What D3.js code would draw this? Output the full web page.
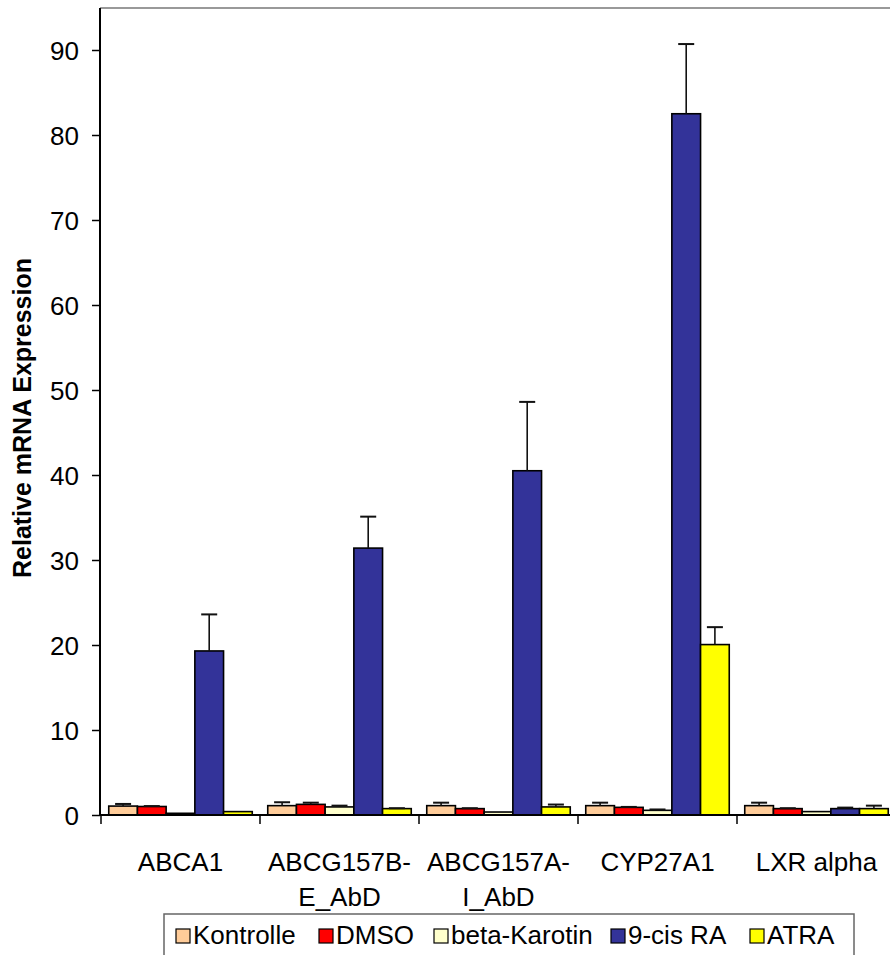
<!DOCTYPE html>
<html><head><meta charset="utf-8">
<script src="https://cdn.jsdelivr.net/npm/d3@7"></script>
<style>body{margin:0;background:#fff}svg{display:block}text{font-family:"Liberation Sans",Arial,sans-serif}</style>
</head><body>
<svg id="c" width="890" height="955"></svg>
<script>
const categories = ["ABCA1", "ABCG157B-\nE_AbD", "ABCG157A-\nI_AbD", "CYP27A1", "LXR alpha"];
const seriesNames = ["Kontrolle", "DMSO", "beta-Karotin", "9-cis RA", "ATRA"];
const seriesColors = ["#FFCC99", "#FF0000", "#FFFFCC", "#333399", "#FFFF00"];
const kontrolle = [1.05, 1.1, 1.1, 1.1, 1.1];
const kontrolleErr = [0.25, 0.4, 0.35, 0.35, 0.35];
const dmso = [1.0, 1.25, 0.75, 0.9, 0.75];
const dmsoErr = [0.05, 0.2, 0.05, 0.05, 0.05];
const betaKarotin = [0.2, 0.95, 0.35, 0.55, 0.4];
const betaKarotinErr = [0.0, 0.15, 0.0, 0.1, 0.0];
const cisRA = [19.3, 31.4, 40.5, 82.5, 0.75];
const cisRAErr = [4.3, 3.7, 8.1, 8.2, 0.12];
const atra = [0.4, 0.75, 0.95, 20.05, 0.75];
const atraErr = [0.0, 0.05, 0.28, 2.05, 0.35];
const yTicks = [0, 10, 20, 30, 40, 50, 60, 70, 80, 90];

const values = [kontrolle, dmso, betaKarotin, cisRA, atra];
const errors = [kontrolleErr, dmsoErr, betaKarotinErr, cisRAErr, atraErr];

const svg = d3.select("#c");
const pLeft = 100, pRight = 896, pTop = 8, pBottom = 815;
const y = d3.scaleLinear().domain([0, 90]).range([pBottom, 50]);
const x0 = d3.scaleBand().domain(categories).range([pLeft + 1, pRight]);
const x1 = d3.scaleBand().domain(seriesNames).range([0, x0.bandwidth()]).paddingOuter(0.27).paddingInner(0);

// plot border top
svg.append("line").attr("x1", pLeft).attr("x2", pRight).attr("y1", pTop).attr("y2", pTop)
  .attr("stroke", "#999").attr("stroke-width", 2);

// bars
const data = [];
categories.forEach((c, i) => seriesNames.forEach((s, j) => data.push({c, s, j, v: values[j][i], e: errors[j][i]})));

svg.append("g").selectAll("rect").data(data).join("rect")
  .attr("x", d => x0(d.c) + x1(d.s))
  .attr("width", x1.bandwidth())
  .attr("y", d => y(d.v))
  .attr("height", d => y(0) - y(d.v))
  .attr("fill", d => seriesColors[d.j])
  .attr("stroke", "#000").attr("stroke-width", 1.6);

// error bars
const eg = svg.append("g").attr("stroke", "#111").attr("stroke-width", 1.6);
data.filter(d => d.e > 0).forEach(d => {
  const cx = x0(d.c) + x1(d.s) + x1.bandwidth() / 2;
  eg.append("line").attr("x1", cx).attr("x2", cx).attr("y1", y(d.v)).attr("y2", y(d.v + d.e));
  eg.append("line").attr("x1", cx - 8).attr("x2", cx + 8).attr("y1", y(d.v + d.e)).attr("y2", y(d.v + d.e)).attr("stroke-width", 2);
});

// y axis
const yAxis = d3.axisLeft(y).tickValues(yTicks).tickSize(8).tickSizeOuter(0);
const ya = svg.append("g").attr("transform", `translate(${pLeft},0)`).call(yAxis);
ya.select(".domain").remove();
ya.selectAll(".tick line").attr("stroke", "#000").attr("stroke-width", 1.5);
ya.selectAll(".tick text").attr("font-size", 26).attr("x", -21).attr("dy", "0.35em")
  .style("font-family", '"Liberation Sans",Arial,sans-serif').attr("fill", "#000");
svg.append("line").attr("x1", pLeft).attr("x2", pLeft).attr("y1", pTop).attr("y2", pBottom)
  .attr("stroke", "#000").attr("stroke-width", 2);

// x axis
svg.append("line").attr("x1", pLeft).attr("x2", pRight).attr("y1", pBottom).attr("y2", pBottom)
  .attr("stroke", "#000").attr("stroke-width", 2);
const bounds = categories.map(c => x0(c)).concat([pRight]);
svg.append("g").selectAll("line").data(bounds).join("line")
  .attr("x1", d => d).attr("x2", d => d).attr("y1", pBottom).attr("y2", pBottom + 9)
  .attr("stroke", "#000").attr("stroke-width", 1.5);

const xl = svg.append("g").selectAll("text").data(categories).join("text")
  .attr("x", d => x0(d) + x0.bandwidth() / 2)
  .attr("y", 871).attr("text-anchor", "middle").attr("font-size", 26).attr("fill", "#000");
xl.each(function(d) {
  const t = d3.select(this);
  d.split("\n").forEach((line, i) => t.append("tspan").attr("x", x0(d) + x0.bandwidth() / 2).attr("dy", i ? 35 : 0).text(line));
});

// y title
svg.append("text").attr("transform", "translate(31,418) rotate(-90)")
  .attr("text-anchor", "middle").attr("font-size", 25).attr("font-weight", "bold").attr("fill", "#000")
  .text("Relative mRNA Expression");

// legend
svg.append("rect").attr("x", 164).attr("y", 914).attr("width", 690).attr("height", 60)
  .attr("fill", "#fff").attr("stroke", "#666").attr("stroke-width", 1.5);
const lgX = [176, 319, 434, 611, 750];
const lg = svg.append("g").selectAll("g").data(seriesNames).join("g")
  .attr("transform", (d, i) => `translate(${lgX[i]},929)`);
lg.append("rect").attr("width", 14).attr("height", 14).attr("fill", (d, i) => seriesColors[i])
  .attr("stroke", "#000").attr("stroke-width", 1.2);
lg.append("text").attr("x", 17).attr("y", 15).attr("font-size", 26).attr("fill", "#000").text(d => d);
</script>
</body></html>
